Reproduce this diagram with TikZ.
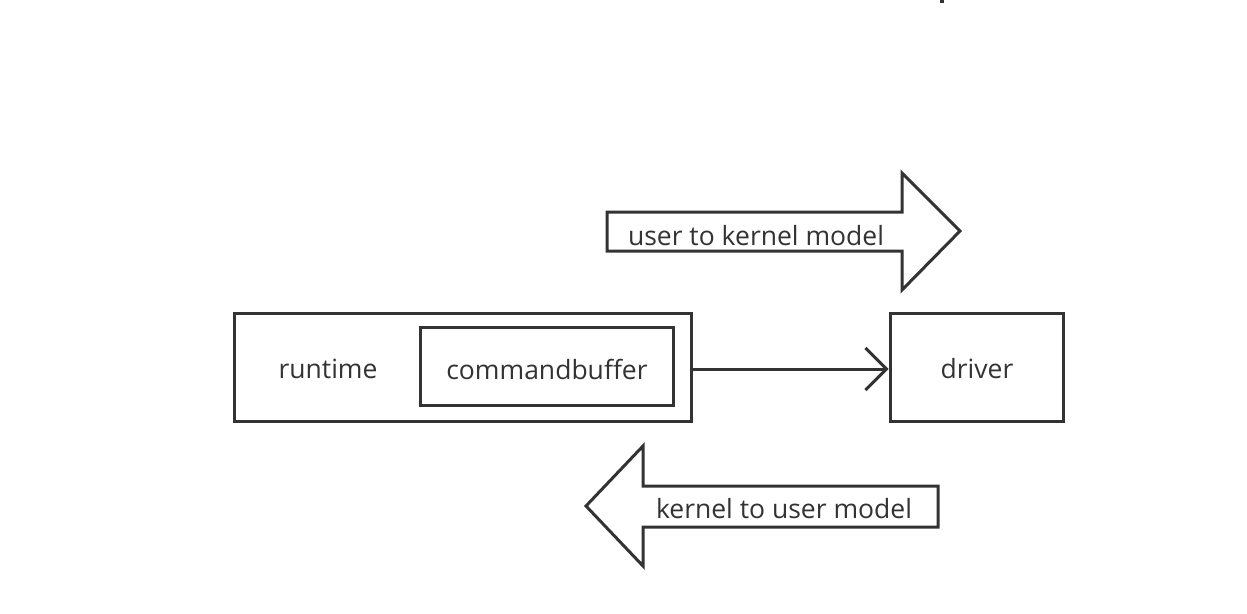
\documentclass[tikz,border=0pt]{standalone}
\usepackage{fontspec}
\setmainfont{Open Sans}
\usetikzlibrary{arrows.meta}
\definecolor{ink}{HTML}{333333}
\tikzset{
  box/.style={draw=ink, line width=3pt, inner sep=0pt},
  lbl/.style={text=ink, font=\fontsize{26.5}{30}\selectfont, inner sep=0pt},
  blockarrow/.style={draw=ink, line width=3pt, fill=white, line join=miter},
  conn/.style={draw=ink, line width=3pt, -{Straight Barb[length=21pt,width=42pt,line width=3pt]}}
}
\begin{document}
\begin{tikzpicture}[x=1pt,y=-1pt]
\useasboundingbox (0,0) rectangle (1247,613);
% small mark at top
\fill[ink] (940,0) rectangle (944,3);
% boxes
\node[box, minimum width=457pt, minimum height=108pt] (runtimebox) at (462.5,367) {};
\node[lbl] (runtime) at (328,369) {runtime};
\node[box, minimum width=253pt, minimum height=78pt] (cmdbuf) at (546.5,366) {};
\node[lbl] (cmdtext) at (547,369) {commandbuffer};
\node[box, minimum width=173pt, minimum height=108pt] (driver) at (976.5,367) {};
\node[lbl] (drivertext) at (977,369) {driver};
% connector
\draw[conn] (runtimebox.east |- 0,369) -- (driver.west |- 0,369);
% user to kernel block arrow
\draw[blockarrow] (607,212) -- (902,212) -- (902,173) -- (960,231) -- (902,290) -- (902,251) -- (607,251) -- cycle;
\node[lbl] (u2k) at (756,236) {user to kernel model};
% kernel to user block arrow
\draw[blockarrow] (938,486) -- (643,486) -- (643,446) -- (586,506) -- (643,566) -- (643,527) -- (938,527) -- cycle;
\node[lbl] (k2u) at (784,509) {kernel to user model};
\end{tikzpicture}
\end{document}
